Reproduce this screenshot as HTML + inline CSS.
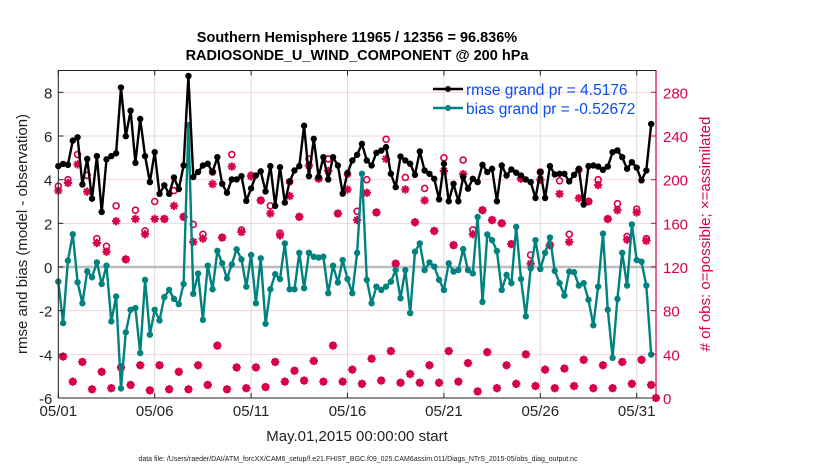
<!DOCTYPE html>
<html><head><meta charset="utf-8"><style>
body{margin:0;background:#fff;}
svg{display:block;font-family:"Liberation Sans",sans-serif;}
</style></head><body>
<svg id="chart" width="830" height="470" viewBox="0 0 830 470" xmlns="http://www.w3.org/2000/svg">
<g id="grid"></g>
<g id="marks"></g>
<rect x="58.3" y="70.5" width="597.7" height="327.5" fill="none" stroke="#222" stroke-width="1"/>
<line x1="656" y1="70.5" x2="656" y2="398" stroke="#d6004f" stroke-width="1.2"/>
<g id="axes"></g>
<text x="357" y="42" text-anchor="middle" font-size="14.5" font-weight="bold">Southern Hemisphere 11965 / 12356 = 96.836%</text>
<text x="357" y="60" text-anchor="middle" font-size="14.5" font-weight="bold">RADIOSONDE_U_WIND_COMPONENT @ 200 hPa</text>
<text x="357" y="441" text-anchor="middle" font-size="15" fill="#222">May.01,2015 00:00:00 start</text>
<text x="358" y="461" text-anchor="middle" font-size="7" fill="#222">data file: /Users/raeder/DAI/ATM_forcXX/CAM6_setup/f.e21.FHIST_BGC.f09_025.CAM6assim.011/Diags_NTrS_2015-05/obs_diag_output.nc</text>
<text transform="translate(27,234) rotate(-90)" text-anchor="middle" font-size="15" fill="#222">rmse and bias (model - observation)</text>
<text transform="translate(710,234) rotate(-90)" text-anchor="middle" font-size="15" fill="#d6004f"># of obs: o=possible; ×=assimilated</text>
<g>
<line x1="433" y1="89" x2="463" y2="89" stroke="#000" stroke-width="2.5"/><circle cx="448" cy="89" r="3" fill="#000"/>
<text x="466" y="95" font-size="15.5" fill="#0a4cf5">rmse grand pr = 4.5176</text>
<line x1="433" y1="108" x2="463" y2="108" stroke="#00827f" stroke-width="2.5"/><circle cx="448" cy="108" r="3" fill="#00827f"/>
<text x="466" y="114" font-size="15.5" fill="#0a4cf5">bias grand pr = -0.52672</text>
</g>
</svg>
<script>
const rmse=[4.62,4.72,4.68,5.79,5.94,3.78,4.95,3.13,5.08,2.52,4.93,5.08,5.21,8.22,5.99,7.16,4.77,6.78,5.08,3.89,5.26,3.35,3.74,3.35,4.1,3.57,4.65,8.75,4.12,4.35,
4.65,4.73,4.35,5.03,3.81,3.4,4.01,4.01,4.16,3.03,3.6,4.19,4.38,3.46,4.62,2.8,4.57,2.95,3.92,4.42,4.62,6.47,4.16,5.87,4.12,5.03,4.01,5.03,4.65,3.36,4.31,
4.88,5.14,5.64,4.88,4.65,5.23,5.33,5.49,4.27,3.66,5.06,4.88,4.73,4.22,5.29,4.42,4.27,4.04,3.1,4.73,3.01,3.81,3.01,4.12,3.59,4.04,3.89,4.68,4.35,4.5,3.01,
4.65,4.19,4.47,4.32,4.19,4.01,3.89,3.16,4.35,3.16,4.62,4.24,4.27,4.27,3.92,4.22,4.5,2.86,4.62,
4.65,4.6,4.45,4.6,5.26,5.34,5.03,4.5,4.8,4.55,3.97,4.42,6.55];
const bias=[-0.67,-2.57,0.29,1.5,-0.7,-1.66,-0.2,-0.47,0.21,-0.78,0.06,-2.49,-1.35,-5.56,-2.99,-1.96,-1.88,-3.94,-0.59,-3.1,-1.96,-2.45,-1.38,-1.05,-1.46,-1.7,-0.78,6.5,-1.23,-0.3,
-2.42,0.06,-1.02,0.74,0.17,-0.52,0.12,0.81,0.35,-0.9,0.55,-1.66,0.4,-2.6,-1.02,-0.33,-0.55,1.08,-1.02,-1.02,0.65,-0.97,0.65,0.47,0.43,0.47,-1.2,0.06,-0.71,0.32,-0.55,
-1.2,0.65,4.27,-0.59,-1.66,-0.9,-1.05,-0.9,-0.67,-0.14,-1.43,-0.14,-2.11,0.7,1.08,-0.14,0.21,0.02,-0.59,-1.05,0.17,-0.21,-0.14,0.82,-0.14,-0.29,2.29,-1.6,1.49,1.23,0.73,-1.05,
-0.36,-0.74,1.84,-0.55,-2.26,-0.06,1.23,-0.09,0.65,1.35,-0.18,-0.74,-1.31,-0.21,-0.24,-0.85,-0.74,-1.5,-2.67,-0.9,1.53,-1.96,-4.16,-1.46,0.65,-0.85,1.95,0.32,0.24,-0.85,-4.01];
const possible=[194,38,200,15,223,33,204,8,146,24,139,9,176,28,127,12,172,30,153,7,180,30,164,8,190,24,166,8,159,30,
150,12,207,48,147,8,223,28,154,9,204,28,181,10,176,33,151,15,198,25,166,16,219,34,201,15,219,48,169,15,205,
26,171,13,200,36,170,16,237,43,123,14,202,22,161,14,192,30,153,14,220,43,140,15,218,32,154,6,172,42,163,9,
160,30,141,13,201,40,131,11,207,26,140,9,199,27,150,11,209,35,180,9,200,30,164,9,178,33,148,13,173,35,146,12,0];
const assimilated=[190,38,197,15,214,33,189,8,142,24,134,9,162,28,127,12,164,30,150,7,164,30,164,8,176,24,166,8,143,30,
146,12,196,48,147,8,212,28,152,9,203,28,181,10,169,33,149,15,185,25,166,16,213,34,201,15,208,48,169,15,191,
26,163,13,188,36,170,16,219,43,123,14,191,22,161,14,181,30,153,14,208,43,140,15,205,32,150,6,172,42,163,9,
160,30,141,13,201,40,123,11,200,26,140,9,187,27,143,11,183,35,180,9,195,30,164,9,172,33,145,13,170,35,144,12,0];
const xTickLabels=["05/01","05/06","05/11","05/16","05/21","05/26","05/31"];
const leftTicks=[-6,-4,-2,0,2,4,6,8];
const rightTicks=[0,40,80,120,160,200,240,280];

const NS="http://www.w3.org/2000/svg";
const X0=58.3, DAY=19.28, Y0=398, YT=70.5;
function xIdx(i){return X0+i*DAY/4;}
function xDay(d){return X0+d*DAY;}
function yL(v){return Y0-(v+6)*(Y0-YT)/15;}
function yR(c){return Y0-c*(Y0-YT)/300;}
function mk(tag,attrs,parent){const e=document.createElementNS(NS,tag);for(const k in attrs)e.setAttribute(k,attrs[k]);parent.appendChild(e);return e;}
const grid=document.getElementById('grid'),marks=document.getElementById('marks'),axes=document.getElementById('axes');

leftTicks.forEach(v=>{
  const l=mk('line',{x1:X0,x2:656,y1:yL(v),y2:yL(v),stroke:'#f2d3de','stroke-width':1},grid);
  
  
  const t=mk('text',{x:X0-6,y:yL(v)+6,'text-anchor':'end','font-size':15,fill:'#222'},axes);
  t.textContent=v;
  
  
  mk('line',{x1:X0,x2:X0+5,y1:yL(v),y2:yL(v),stroke:'#222'},axes);
});
xTickLabels.forEach((s,k)=>{
  const x=xDay(k*5);
  const l=mk('line',{x1:x,x2:x,y1:YT,y2:Y0,stroke:'#dcdcdc','stroke-width':1},grid);
  
  
  mk('line',{x1:x,x2:x,y1:Y0,y2:Y0-5,stroke:'#222'},axes);
  mk('line',{x1:x,x2:x,y1:YT,y2:YT+5,stroke:'#222'},axes);
  const t=mk('text',{x:x,y:416,'text-anchor':'middle','font-size':15,fill:'#222'},axes);
  t.textContent=s;
  
  
});
rightTicks.forEach(c=>{
  mk('line',{x1:656,x2:651,y1:yR(c),y2:yR(c),stroke:'#d6004f'},axes);
  const t=mk('text',{x:663,y:yR(c)+6,'font-size':15,fill:'#d6004f'},axes);
  t.textContent=c;
  
  
});
const zl=mk('line',{x1:X0,x2:656,y1:yL(0),y2:yL(0),stroke:'#bdbdbd','stroke-width':2.5},grid);



const C='#d6004f';
function star(x,y,p){
  const r=4.2;
  for(let a=0;a<4;a++){const an=a*Math.PI/4;
    mk('line',{x1:x-r*Math.cos(an),y1:y-r*Math.sin(an),x2:x+r*Math.cos(an),y2:y+r*Math.sin(an),stroke:C,'stroke-width':2},p);}
}
assimilated.forEach((c,i)=>{
  const g=mk('g',{},marks);
  
  
  const x=xIdx(i);
  star(x,yR(c),g);
  mk('circle',{cx:x,cy:yR(possible[i]),r:3,fill:'none',stroke:C,'stroke-width':1.6},g);
});
function series(vals,color,name){
  const pts=vals.map((v,i)=>xIdx(i).toFixed(1)+','+yL(v).toFixed(1)).join(' ');
  const pl=mk('polyline',{points:pts,fill:'none',stroke:color,'stroke-width':2.4,'stroke-linejoin':'round'},marks);
  
  
  vals.forEach((v,i)=>{
    const c=mk('circle',{cx:xIdx(i),cy:yL(v),r:3.2,fill:color},marks);
    
    
  });
}
series(bias,'#00827f','bias');
series(rmse,'#000000','rmse');
</script>
</body></html>
